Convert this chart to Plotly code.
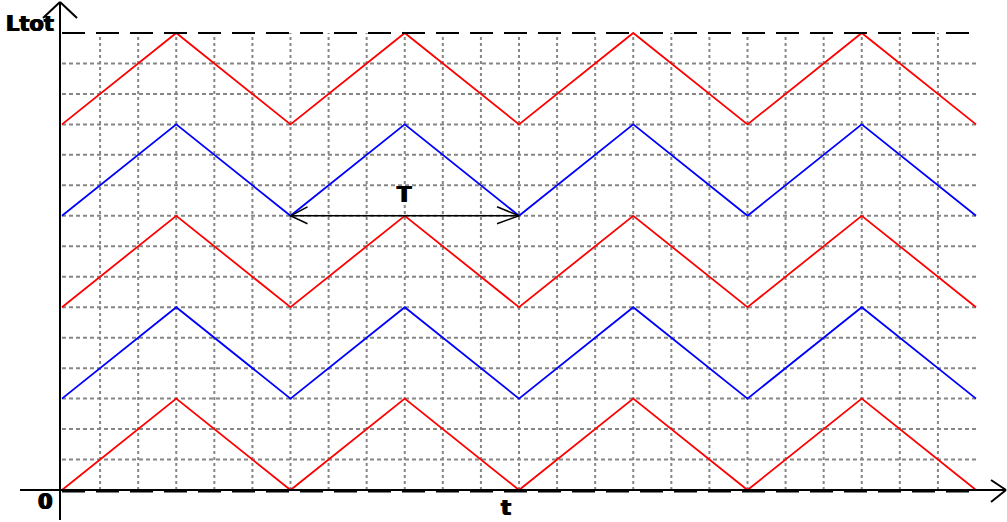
import plotly.graph_objects as go

# Triangle-wave levels of the total length over time (grid units)
t_knots = [0, 3, 6, 9, 12, 15, 18, 21, 24]
red_low = [0, 3, 0, 3, 0, 3, 0, 3, 0]
blue_low = [3, 6, 3, 6, 3, 6, 3, 6, 3]
red_mid = [6, 9, 6, 9, 6, 9, 6, 9, 6]
blue_high = [9, 12, 9, 12, 9, 12, 9, 12, 9]
red_high = [12, 15, 12, 15, 12, 15, 12, 15, 12]

# Period marker T
period_start, period_end, period_level = 6, 12, 9

t_max, l_max = 24, 15
t_grid = list(range(1, t_max))
l_grid = list(range(1, l_max))

# Canvas geometry
W, H = 1007, 522
ORIGIN_PX, ORIGIN_PY = 62, 490
UX = (976 - ORIGIN_PX) / t_max
UY = (ORIGIN_PY - 33) / l_max


def dx(p):
    """pixel column -> data x"""
    return (p - ORIGIN_PX) / UX


def dy(p):
    """pixel row -> data y"""
    return (ORIGIN_PY - p) / UY


fig = go.Figure()

shapes = []
GRID = dict(color="#868686", width=2)
for t in t_grid:
    shapes.append(dict(type="line", x0=t, x1=t, y0=0, y1=l_max,
                       line=dict(GRID, dash="3px,3px"), layer="below"))
for l in l_grid:
    shapes.append(dict(type="line", x0=0, x1=t_max, y0=l, y1=l,
                       line=dict(GRID, dash="4px,3px"), layer="below"))

# dashed black boundaries
shapes.append(dict(type="line", x0=0, x1=t_max, y0=l_max, y1=l_max,
                   line=dict(color="black", width=2, dash="23px,11px")))
shapes.append(dict(type="line", x0=0, x1=t_max, y0=dy(491), y1=dy(491),
                   line=dict(color="black", width=3, dash="23px,11px")))

AX = dict(color="black", width=2)
# vertical axis with open arrow
shapes.append(dict(type="line", x0=dx(60), x1=dx(60), y0=dy(2), y1=dy(520), line=AX))
shapes.append(dict(type="line", x0=dx(60), x1=dx(43), y0=dy(2), y1=dy(18), line=AX))
shapes.append(dict(type="line", x0=dx(60), x1=dx(77), y0=dy(2), y1=dy(18), line=AX))
# horizontal axis with open arrow
shapes.append(dict(type="line", x0=dx(20), x1=dx(1006), y0=0, y1=0, line=AX))
shapes.append(dict(type="line", x0=dx(1006), x1=dx(991), y0=0, y1=dy(480), line=AX))
shapes.append(dict(type="line", x0=dx(1006), x1=dx(991), y0=0, y1=dy(502), line=AX))

# period arrow
TA = dict(color="black", width=1.5)
shapes.append(dict(type="line", x0=period_start, x1=period_end,
                   y0=period_level, y1=period_level, line=TA))
lx = ORIGIN_PX + period_start * UX
rx = ORIGIN_PX + period_end * UX
ly = ORIGIN_PY - period_level * UY
for sx, ex in ((lx, lx + 17), (rx, rx - 22)):
    shapes.append(dict(type="line", x0=dx(sx), x1=dx(ex), y0=period_level, y1=dy(ly - 9), line=TA))
    shapes.append(dict(type="line", x0=dx(sx), x1=dx(ex), y0=period_level, y1=dy(ly + 8), line=TA))

for ys, col in ((red_low, "#ff0000"), (blue_low, "#0000ff"), (red_mid, "#ff0000"),
                (blue_high, "#0000ff"), (red_high, "#ff0000")):
    fig.add_trace(go.Scatter(x=t_knots, y=ys, mode="lines",
                             line=dict(color=col, width=1.8), hoverinfo="skip"))

FONT = dict(family="DejaVu Sans", size=21, color="black",
            shadow="0.7px 0 0 black, -0.7px 0 0 black")
ann = [
    dict(x=dx(30), y=dy(24), text="<b>Ltot</b>"),
    dict(x=dx(45), y=dy(502), text="<b>0</b>"),
    dict(x=dx(506), y=dy(508), text="<b>t</b>"),
    dict(x=(period_start + period_end) / 2, y=dy(195), text="<b>T</b>"),
]
for a in ann:
    a.update(showarrow=False, font=FONT, xanchor="center", yanchor="middle")

fig.update_layout(
    width=W, height=H,
    margin=dict(l=0, r=0, t=0, b=0),
    paper_bgcolor="white", plot_bgcolor="white",
    showlegend=False,
    shapes=shapes,
    annotations=ann,
    xaxis=dict(range=[dx(0), dx(W)], visible=False, fixedrange=True),
    yaxis=dict(range=[dy(H), dy(0)], visible=False, fixedrange=True),
)

fig.write_html("out.html")
